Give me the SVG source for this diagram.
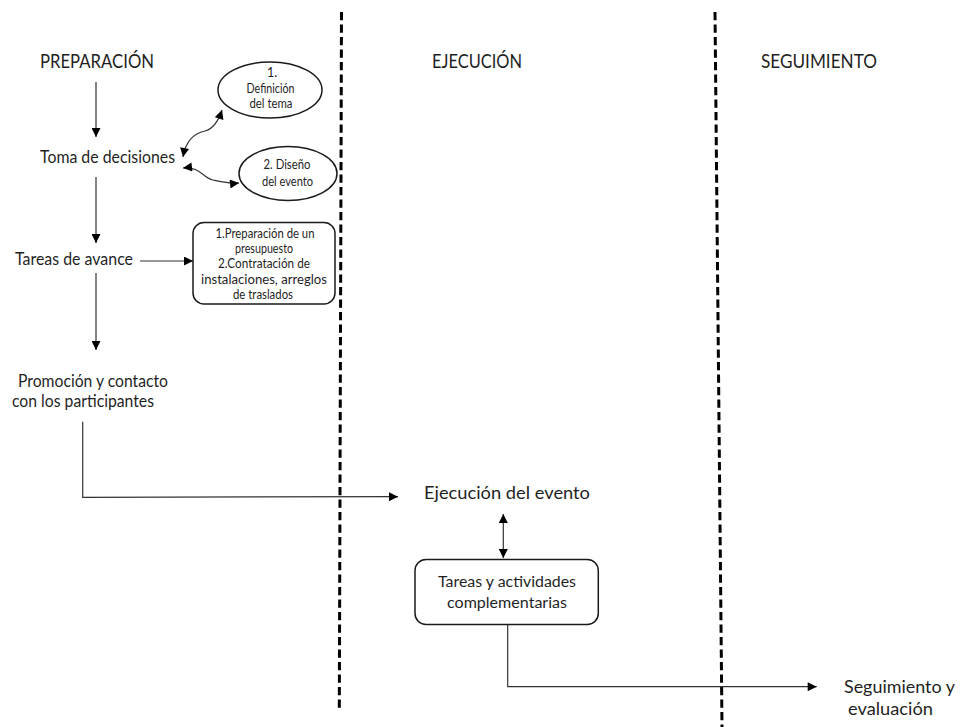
<svg xmlns="http://www.w3.org/2000/svg" width="960" height="727" viewBox="0 0 960 727">
<style>
text{font-family:Lato,"Open Sans","Liberation Sans",sans-serif;fill:#1f1f1f}
.h{font-size:18.5px}
.l{font-size:17px}
.s{font-size:12.5px;text-anchor:middle}
.m{font-size:15.5px;text-anchor:middle}
.dash{stroke:#000;stroke-width:3;stroke-dasharray:8.3 4.2;fill:none}
.c{stroke:#333;stroke-width:1.2;fill:none}
.shape{fill:#fff;stroke:#1a1a1a;stroke-width:1.5}
</style>
<defs>
<marker id="ah" viewBox="0 0 10 10" refX="10" refY="5" markerWidth="10" markerHeight="9" markerUnits="userSpaceOnUse" orient="auto-start-reverse"><path d="M0,0 L10,5 L0,10 z" fill="#000"/></marker>
</defs>
<rect width="960" height="727" fill="#fff"/>
<g id="dividers">
<line class="dash" x1="341.5" y1="12" x2="339.3" y2="711"/>
<line class="dash" x1="715" y1="12" x2="722" y2="727"/>
</g>
<g id="headers">
<text class="h" x="40" y="68" textLength="114" lengthAdjust="spacingAndGlyphs">PREPARACIÓN</text>
<text class="h" x="432" y="68" textLength="90" lengthAdjust="spacingAndGlyphs">EJECUCIÓN</text>
<text class="h" x="761" y="68" textLength="116" lengthAdjust="spacingAndGlyphs">SEGUIMIENTO</text>
</g>
<g id="connectors">
<line class="c" x1="96" y1="82" x2="96" y2="137" marker-end="url(#ah)"/>
<line class="c" x1="96" y1="177" x2="96" y2="243" marker-end="url(#ah)"/>
<line class="c" x1="96" y1="273" x2="96" y2="350" marker-end="url(#ah)"/>
<line class="c" x1="140" y1="261" x2="193" y2="261" marker-end="url(#ah)"/>
<path class="c" d="M183,157 C186,140 195,133 205,131 C213,129 218,122 222,110" marker-start="url(#ah)" marker-end="url(#ah)"/>
<path class="c" d="M183,168 C200,166 203,178 213,180 C222,182 230,184 239,183" marker-start="url(#ah)" marker-end="url(#ah)"/>
<path class="c" d="M82.7,421.7 L82.7,497.3 L398,496.7" marker-end="url(#ah)"/>
<line class="c" x1="503.3" y1="514" x2="503.3" y2="558" marker-start="url(#ah)" marker-end="url(#ah)"/>
<path class="c" d="M507.7,624.5 L507.7,686.7 L816.7,686.7" marker-end="url(#ah)"/>
</g>
<g id="n-toma"><text class="l" x="40" y="163" textLength="135" lengthAdjust="spacingAndGlyphs">Toma de decisiones</text></g>
<g id="n-tareas"><text class="l" x="15" y="265" textLength="118" lengthAdjust="spacingAndGlyphs">Tareas de avance</text></g>
<g id="n-promocion">
<text class="l" x="18" y="386.5" textLength="150" lengthAdjust="spacingAndGlyphs">Promoción y contacto</text>
<text class="l" x="12" y="406.5" textLength="142" lengthAdjust="spacingAndGlyphs">con los participantes</text>
</g>
<g id="n-definicion">
<ellipse class="shape" cx="270" cy="90" rx="52" ry="28"/>
<text class="s" x="272" y="77">1.</text>
<text class="s" x="270.5" y="93" textLength="48" lengthAdjust="spacingAndGlyphs">Definición</text>
<text class="s" x="271" y="108" textLength="43" lengthAdjust="spacingAndGlyphs">del tema</text>
</g>
<g id="n-diseno">
<ellipse class="shape" cx="288" cy="173.5" rx="49" ry="27"/>
<text class="s" x="287" y="169" textLength="47" lengthAdjust="spacingAndGlyphs">2. Diseño</text>
<text class="s" x="287.5" y="186" textLength="51" lengthAdjust="spacingAndGlyphs">del evento</text>
</g>
<g id="n-avance-box">
<rect class="shape" x="193" y="222.5" width="142" height="81.5" rx="11"/>
<text class="s" x="265" y="238" textLength="99" lengthAdjust="spacingAndGlyphs">1.Preparación de un</text>
<text class="s" x="264" y="253" textLength="58" lengthAdjust="spacingAndGlyphs">presupuesto</text>
<text class="s" x="264" y="268" textLength="92" lengthAdjust="spacingAndGlyphs">2.Contratación de</text>
<text class="s" x="264" y="283.5" textLength="126" lengthAdjust="spacingAndGlyphs">instalaciones, arreglos</text>
<text class="s" x="263" y="298.5" textLength="60" lengthAdjust="spacingAndGlyphs">de traslados</text>
</g>
<g id="n-ejecucion"><text class="l" x="424" y="499" textLength="166" lengthAdjust="spacingAndGlyphs">Ejecución del evento</text></g>
<g id="n-complementarias">
<rect class="shape" x="415" y="559.5" width="183.3" height="65" rx="11"/>
<text class="m" x="507" y="586.7" textLength="138" lengthAdjust="spacingAndGlyphs">Tareas y actividades</text>
<text class="m" x="507" y="608" textLength="120" lengthAdjust="spacingAndGlyphs">complementarias</text>
</g>
<g id="n-seguimiento">
<text class="l" x="844" y="693" textLength="111" lengthAdjust="spacingAndGlyphs">Seguimiento y</text>
<text class="l" x="848" y="715" textLength="85" lengthAdjust="spacingAndGlyphs">evaluación</text>
</g>
</svg>
